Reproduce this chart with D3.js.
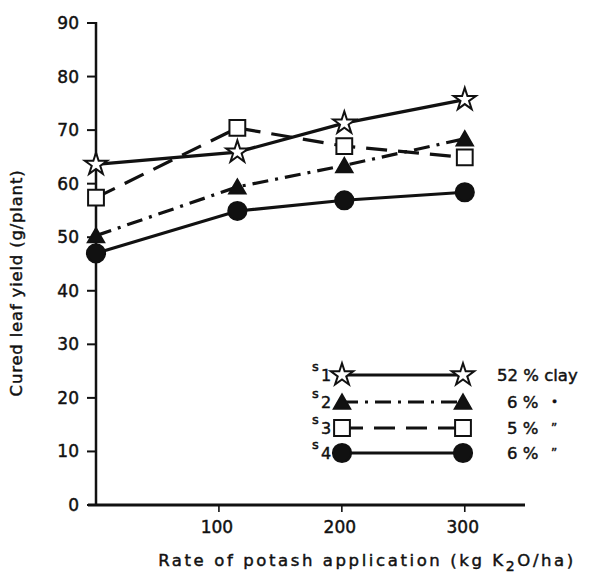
<!DOCTYPE html>
<html>
<head>
<meta charset="utf-8">
<script src="https://d3js.org/d3.v7.min.js"></script>
<style>
  body { margin: 0; background: white; }
  text { font-family: 'DejaVu Sans', 'Liberation Sans', sans-serif; fill: #111; stroke: #111; stroke-width: 0.45px; }
  .tick-label { font-size: 17px; }
  .axis-title { font-size: 16.5px; }
</style>
</head>
<body>
<svg id="chart"></svg>
<script>
var width = 592, height = 575;

// potash rate (kg K2O/ha)
var rates = [0, 115, 202, 300];
// cured leaf yield (g/plant) for the four soils
var s1 = [63.6, 65.9, 71.3, 75.7];
var s2 = [50.3, 59.4, 63.4, 68.4];
var s3 = [57.4, 70.4, 67.0, 64.9];
var s4 = [47.0, 54.9, 56.9, 58.4];

var seriesNames = ["1", "2", "3", "4"];
var clayLabels = ["52 % clay", "6 %", "5 %", "6 %"];
var yTicks = [0, 10, 20, 30, 40, 50, 60, 70, 80, 90];
var xTicks = [100, 200, 300];

var svg = d3.select("#chart").attr("width", width).attr("height", height);

var x = d3.scaleLinear().domain([0, 349]).range([96, 525]);
var y = d3.scaleLinear().domain([0, 90]).range([505, 23]);

var series = [
  { values: s1, symbol: d3.symbolStar, size: 155, fill: "white", dash: null },
  { values: s2, symbol: d3.symbolTriangle, size: 115, fill: "#111", dash: "16,7,3,7" },
  { values: s3, symbol: d3.symbolSquare, size: 250, fill: "white", dash: "21,11" },
  { values: s4, symbol: d3.symbolCircle, size: 260, fill: "#111", dash: null }
];

// axes
svg.append("line").attr("x1", x(0)).attr("x2", x(0)).attr("y1", y(90) - 1).attr("y2", y(0) + 1)
  .attr("stroke", "#111").attr("stroke-width", 2.5);
svg.append("line").attr("x1", x(0) - 8).attr("x2", x(349)).attr("y1", y(0)).attr("y2", y(0))
  .attr("stroke", "#111").attr("stroke-width", 2.8);

svg.selectAll(".ytick").data(yTicks).enter().append("line")
  .attr("x1", x(0) - 9).attr("x2", x(0)).attr("y1", function(d) { return y(d); }).attr("y2", function(d) { return y(d); })
  .attr("stroke", "#111").attr("stroke-width", 2);
svg.selectAll(".ylab").data(yTicks).enter().append("text")
  .attr("class", "tick-label")
  .attr("x", x(0) - 17).attr("y", function(d) { return y(d) + 6; })
  .attr("text-anchor", "end")
  .text(function(d) { return d; });

svg.selectAll(".xtick").data(xTicks).enter().append("line")
  .attr("x1", function(d) { return x(d); }).attr("x2", function(d) { return x(d); })
  .attr("y1", y(0)).attr("y2", y(0) + 7)
  .attr("stroke", "#111").attr("stroke-width", 1.6);
svg.selectAll(".xlab").data(xTicks).enter().append("text")
  .attr("class", "tick-label")
  .attr("x", function(d) { return x(d) - 2; }).attr("y", 533)
  .attr("text-anchor", "middle")
  .text(function(d) { return d; });

// axis titles
var xt = svg.append("text").attr("class", "axis-title").attr("x", 367).attr("y", 566)
  .attr("text-anchor", "middle").style("letter-spacing", "2.6px");
xt.append("tspan").text("Rate of potash application (kg K");
xt.append("tspan").attr("dy", 5).style("font-size", "14px").text("2");
xt.append("tspan").attr("dy", -5).text("O/ha)");

svg.append("text").attr("class", "axis-title")
  .attr("transform", "translate(22,283) rotate(-90)")
  .attr("text-anchor", "middle").style("letter-spacing", "0.8px")
  .text("Cured leaf yield (g/plant)");

// lines
var line = d3.line()
  .x(function(d, i) { return x(rates[i]); })
  .y(function(d) { return y(d); });

series.forEach(function(s) {
  svg.append("path").datum(s.values)
    .attr("d", line)
    .attr("fill", "none").attr("stroke", "#111").attr("stroke-width", 3.2)
    .attr("stroke-dasharray", s.dash);
});

function markerY(s, v) { return v + (s.symbol === d3.symbolTriangle ? 2 : 0); }

series.forEach(function(s) {
  svg.selectAll(null).data(s.values).enter().append("path")
    .attr("d", d3.symbol().type(s.symbol).size(s.size))
    .attr("transform", function(d, i) {
      return "translate(" + x(rates[i]) + "," + markerY(s, y(d)) + ")";
    })
    .attr("fill", s.fill).attr("stroke", "#111").attr("stroke-width", 2);
});

// legend
var legendY = [375, 402, 428, 453];
var lx1 = 342, lx2 = 463;
series.forEach(function(s, i) {
  var ly = legendY[i];
  svg.append("line").attr("x1", lx1).attr("x2", lx2).attr("y1", ly).attr("y2", ly)
    .attr("stroke", "#111").attr("stroke-width", 3.2).attr("stroke-dasharray", s.dash);
  [lx1, lx2].forEach(function(px) {
    svg.append("path")
      .attr("d", d3.symbol().type(s.symbol).size(s.size))
      .attr("transform", "translate(" + px + "," + markerY(s, ly) + ")")
      .attr("fill", s.fill).attr("stroke", "#111").attr("stroke-width", 2);
  });
  svg.append("text").attr("x", 312).attr("y", ly - 4)
    .style("font-size", "13px").text("s");
  svg.append("text").attr("x", 321).attr("y", ly + 6)
    .style("font-size", "16px").text(seriesNames[i]);
  svg.append("text").attr("class", "axis-title")
    .attr("x", i === 0 ? 497 : 507).attr("y", ly + 6)
    .text(clayLabels[i]);
  if (i > 0) {
    svg.append("text").attr("x", 551).attr("y", ly + 4)
      .style("font-size", "12px").text(i === 1 ? "\u2022" : "\u201D");
  }
});
</script>
</body>
</html>
